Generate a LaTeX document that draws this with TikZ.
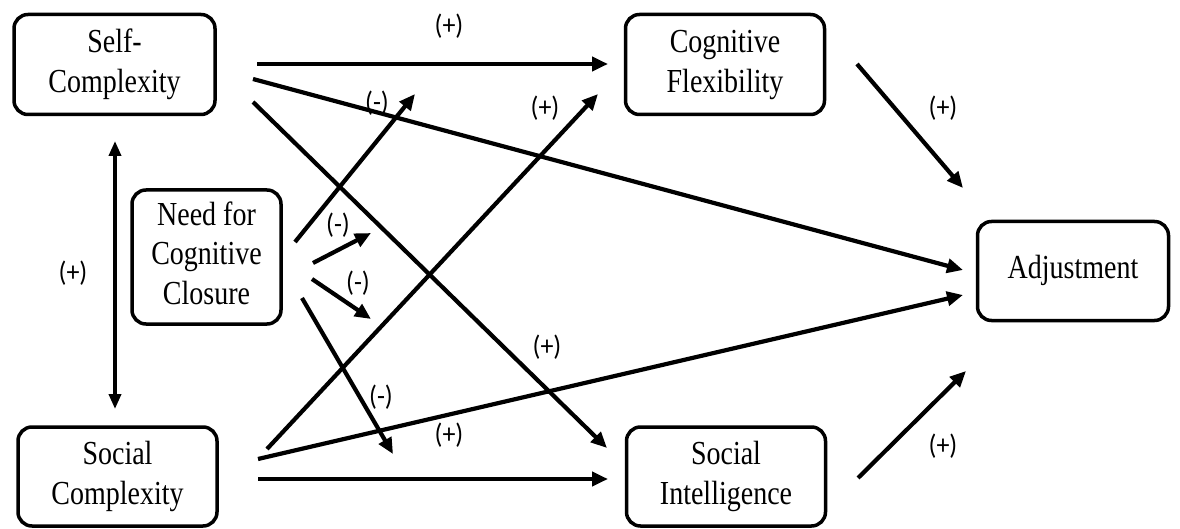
\documentclass[tikz,border=0pt]{standalone}
\usepackage{fontspec}
\usepackage{graphicx}
\setmainfont{Liberation Serif}
\newfontfamily\lblfont{Carlito}
\usetikzlibrary{arrows.meta}
\newcommand\boxtxt[1]{\scalebox{1}[1.2]{\begin{tabular}{@{}c@{}}#1\end{tabular}}}
\newcommand\lbltxt[1]{\scalebox{1}[1.08]{#1}}
\begin{document}
\begin{tikzpicture}[x=1pt,y=-1pt,
  box/.style={draw, line width=3.5pt, rounded corners=14pt, align=center,
    font=\fontsize{28}{33.3}\selectfont, inner sep=0pt},
  conn/.style={line width=4.2pt, -{Triangle[length=16pt,width=14pt]}},
  dconn/.style={line width=3.6pt, {Triangle[length=15pt,width=12pt]}-{Triangle[length=15pt,width=12pt]}},
  lbl/.style={font=\lblfont\fontsize{26}{28}\selectfont, inner sep=0pt}]
\useasboundingbox (0,0) rectangle (1180,529);
\fill[white] (0,0) rectangle (1180,529);
% boxes
\node[box, minimum width=201pt, minimum height=100pt] (self) at (114.5,64.5) {\boxtxt{Self-\\Complexity}};
\node[box, minimum width=199pt, minimum height=100pt] (cf) at (725,64.5) {\boxtxt{Cognitive\\Flexibility}};
\node[box, minimum width=149pt, minimum height=134pt] (nfcc) at (206.5,257) {\boxtxt{Need for\\Cognitive\\Closure}};
\node[box, minimum width=191pt, minimum height=99pt] (adj) at (1073,271) {\boxtxt{Adjustment}};
\node[box, minimum width=199pt, minimum height=99pt] (soc) at (117.5,476.5) {\boxtxt{Social\\Complexity}};
\node[box, minimum width=199pt, minimum height=99pt] (si) at (726,476.5) {\boxtxt{Social\\Intelligence}};
% endpoints
\coordinate (a1) at (257,64);  \coordinate (b1) at (608,64);
\coordinate (a2) at (253,79);  \coordinate (b2) at (963,270);
\coordinate (a3) at (253,102); \coordinate (b3) at (607,448);
\coordinate (a4) at (267,449); \coordinate (b4) at (598,94);
\coordinate (a5) at (258,459); \coordinate (b5) at (963,295);
\coordinate (a6) at (258,479); \coordinate (b6) at (608,479);
\coordinate (n1) at (295,242); \coordinate (m1) at (415,94);
\coordinate (n2) at (313,263); \coordinate (m2) at (371,233);
\coordinate (n3) at (312,279); \coordinate (m3) at (371,319);
\coordinate (n4) at (302,298); \coordinate (m4) at (393,454);
\coordinate (c1) at (857,64);  \coordinate (d1) at (963,188);
\coordinate (c2) at (858,478); \coordinate (d2) at (966,371);
\coordinate (v1) at (115,141); \coordinate (v2) at (115,409);
% connectors
\draw[conn] (a1) -- (b1);
\draw[conn] (a2) -- (b2);
\draw[conn] (a3) -- (b3);
\draw[conn] (a4) -- (b4);
\draw[conn] (a5) -- (b5);
\draw[conn] (a6) -- (b6);
\draw[conn] (n1) -- (m1);
\draw[conn] (n2) -- (m2);
\draw[conn] (n3) -- (m3);
\draw[conn] (n4) -- (m4);
\draw[conn] (c1) -- (d1);
\draw[conn] (c2) -- (d2);
\draw[dconn] (v1) -- (v2);
% labels
\node[lbl] (l1) at (449,26) {\lbltxt{(+)}};
\node[lbl] (l2) at (377,103) {\lbltxt{(-)}};
\node[lbl] (l3) at (545,108) {\lbltxt{(+)}};
\node[lbl] (l4) at (943,108) {\lbltxt{(+)}};
\node[lbl] (l5) at (73,273) {\lbltxt{(+)}};
\node[lbl] (l6) at (338,225) {\lbltxt{(-)}};
\node[lbl] (l7) at (358,283) {\lbltxt{(-)}};
\node[lbl] (l8) at (547,347) {\lbltxt{(+)}};
\node[lbl] (l9) at (381,397) {\lbltxt{(-)}};
\node[lbl] (l10) at (449,435) {\lbltxt{(+)}};
\node[lbl] (l11) at (943,446) {\lbltxt{(+)}};
\end{tikzpicture}
\end{document}
